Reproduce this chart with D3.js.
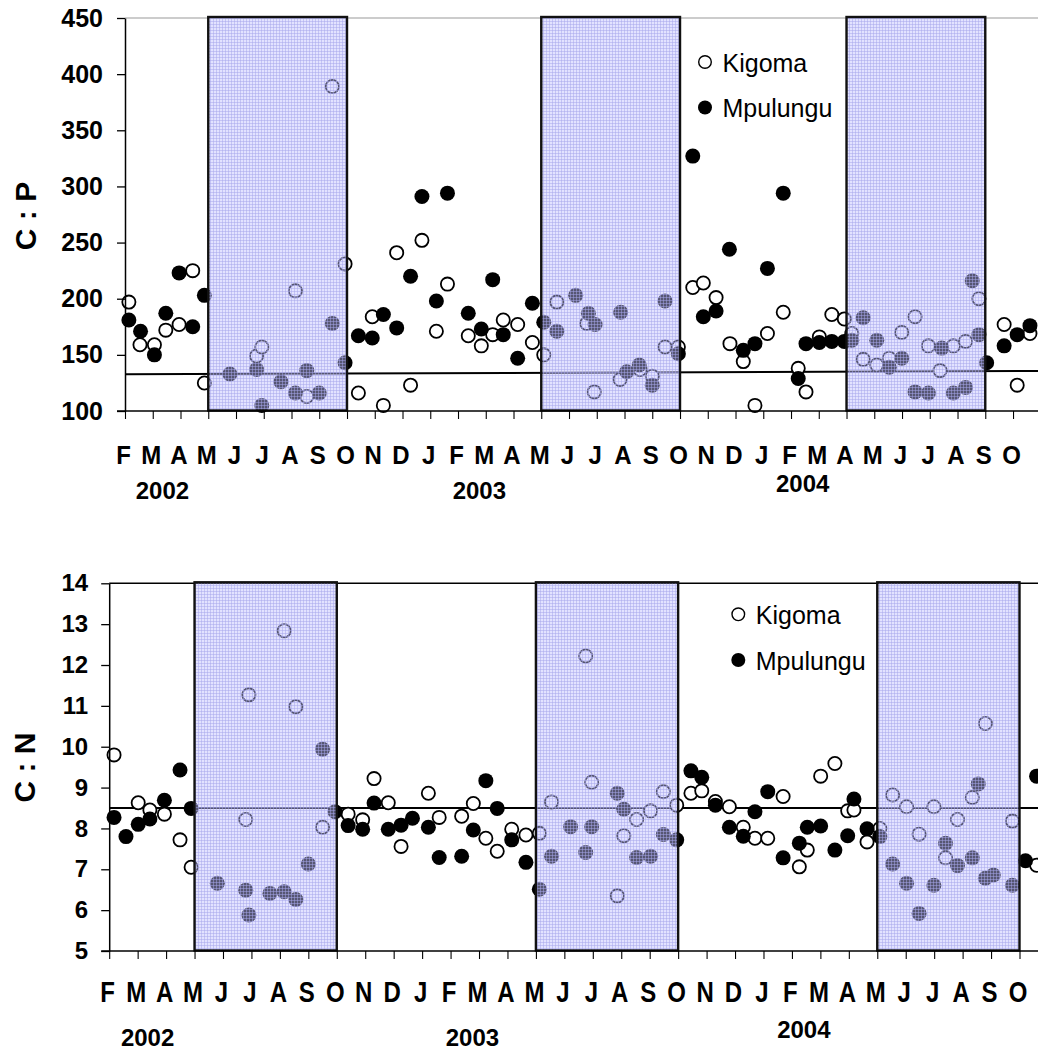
<!DOCTYPE html>
<html><head><meta charset="utf-8">
<script src="https://cdn.jsdelivr.net/npm/d3@7"></script>
<style>body{margin:0;background:#fff}svg{display:block}text{font-family:"Liberation Sans",Arial,Helvetica,sans-serif}</style>
</head><body><svg id="c" width="1038" height="1052"></svg>
<script>
// ---- data (x in month units: 0 = Feb 2002) ----
const monthLabels = ["F","M","A","M","J","J","A","S","O","N","D","J","F","M","A","M","J","J","A","S","O","N","D","J","F","M","A","M","J","J","A","S","O"];
const yearLabels = ["2002","2003","2004"];
const yearAt = [1.35, 12.77, 24.42];
const cpTicks = [100,150,200,250,300,350,400,450];
const cnTicks = [5,6,7,8,9,10,11,12,13,14];

const kigomaCP = [[0.14,197],[0.54,159],[1.06,159],[1.47,172],[1.95,177],[2.44,225],[2.86,125],[4.74,149],[4.93,157],[6.14,207],[6.55,113],[7.47,389],[7.93,231],[8.41,116],[8.91,184],[9.31,105],[9.79,241],[10.29,123],[10.7,252],[11.22,171],[11.62,213],[12.37,167],[12.84,158],[13.25,168],[13.63,181],[14.15,177],[14.68,161],[15.09,150],[15.56,197],[16.64,178],[16.91,117],[17.84,128],[18.56,137],[19.0,131],[19.46,157],[19.94,157],[20.46,210],[20.84,214],[21.3,201],[21.8,160],[22.28,144],[22.7,105],[23.15,169],[23.72,188],[24.26,138],[24.54,117],[25.02,166],[25.47,186],[25.92,182],[26.19,169],[26.6,146],[27.09,141],[27.54,147],[27.99,170],[28.47,184],[28.95,158],[29.37,136],[29.85,158],[30.29,162],[30.77,200],[31.68,177],[32.15,123],[32.61,169]];
const mpulunguCP = [[0.14,181],[0.56,171],[1.06,150],[1.47,187],[1.95,223],[2.44,175],[2.86,203],[3.78,133],[4.74,137],[4.93,105],[5.62,126],[6.14,116],[6.55,136],[7.0,116],[7.47,178],[7.93,143],[8.41,167],[8.91,165],[9.31,186],[9.79,174],[10.29,220],[10.7,291],[11.22,198],[11.62,294],[12.37,187],[12.84,173],[13.25,217],[13.63,168],[14.15,147],[14.68,196],[15.09,179],[15.56,171],[16.24,203],[16.7,187],[16.94,177],[17.86,188],[18.08,135],[18.53,141],[19.0,123],[19.46,198],[19.94,151],[20.46,327],[20.84,184],[21.3,189],[21.78,244],[22.28,154],[22.7,160],[23.15,227],[23.72,294],[24.26,129],[24.54,160],[25.02,161],[25.47,162],[25.92,162],[26.19,163],[26.6,183],[27.09,163],[27.54,139],[27.99,147],[28.47,117],[28.95,116],[29.43,156],[29.85,116],[30.29,121],[30.53,216],[30.77,168],[31.05,143],[31.68,158],[32.15,168],[32.61,176]];

const kigomaCN = [[0.17,9.8],[1.02,8.63],[1.43,8.45],[1.94,8.35],[2.49,7.72],[2.88,7.05],[4.80,8.22],[4.91,11.27],[6.15,12.84],[6.56,10.98],[7.5,8.03],[8.40,8.35],[8.91,8.21],[9.31,9.22],[9.81,8.63],[10.26,7.56],[11.22,8.86],[11.60,8.27],[12.39,8.3],[12.80,8.61],[13.24,7.76],[13.64,7.44],[14.15,7.98],[14.65,7.84],[15.12,7.88],[15.55,8.65],[16.75,12.22],[16.96,9.13],[17.86,6.35],[18.09,7.82],[18.54,8.22],[19.03,8.43],[19.48,8.9],[19.95,8.57],[20.45,8.86],[20.83,8.92],[21.31,8.66],[21.8,8.53],[22.29,8.03],[22.7,7.76],[23.15,7.76],[23.69,8.78],[24.26,7.06],[24.54,7.47],[25.01,9.28],[25.51,9.59],[25.96,8.43],[26.18,8.45],[26.64,7.67],[27.09,8.0],[27.54,8.82],[28.03,8.53],[28.47,7.86],[28.99,8.53],[29.4,7.28],[29.82,8.22],[30.34,8.76],[30.8,10.57],[31.75,8.18],[32.6,7.1]];
const mpulunguCN = [[0.17,8.27],[0.59,7.8],[1.02,8.1],[1.43,8.23],[1.94,8.69],[2.49,9.43],[2.88,8.49],[3.80,6.66],[4.80,6.49],[4.91,5.88],[5.65,6.41],[6.15,6.45],[6.56,6.26],[7.0,7.13],[7.5,9.94],[7.94,8.41],[8.40,8.07],[8.91,7.98],[9.31,8.62],[9.81,7.98],[10.26,8.08],[10.66,8.25],[11.22,8.03],[11.60,7.29],[12.39,7.32],[12.80,7.96],[13.24,9.17],[13.64,8.49],[14.15,7.72],[14.65,7.17],[15.12,6.51],[15.55,7.32],[16.22,8.04],[16.75,7.41],[16.96,8.04],[17.86,8.86],[18.09,8.47],[18.54,7.29],[19.03,7.32],[19.48,7.85],[19.95,7.72],[20.45,9.41],[20.83,9.25],[21.31,8.57],[21.8,8.03],[22.29,7.81],[22.7,8.41],[23.15,8.9],[23.69,7.28],[24.26,7.64],[24.54,8.03],[25.01,8.06],[25.51,7.47],[25.96,7.82],[26.18,8.72],[26.64,7.99],[27.09,7.8],[27.54,7.13],[28.03,6.66],[28.47,5.92],[28.99,6.61],[29.4,7.64],[29.82,7.09],[30.34,7.28],[30.55,9.09],[30.8,6.78],[31.08,6.86],[31.75,6.61],[32.21,7.21],[32.6,9.28]];

const cpSeasons = [[3,8],[15,20],[26,31]];
const cnSeasons = [[3,8],[15,20],[27,32]];
const cpMean = [[0,132.7],[32.9,135.6]];
const cnMean = [[0,8.5],[32.65,8.5]];
const seriesNames = ["Kigoma","Mpulungu"];

// ---- drawing ----
const svg = d3.select("#c");
const defs = svg.append("defs");
const pat = defs.append("pattern").attr("id","shade").attr("patternUnits","userSpaceOnUse")
  .attr("width",3).attr("height",3);
pat.append("rect").attr("width",3).attr("height",3).attr("fill","rgb(190,190,255)").attr("fill-opacity",0.45);
pat.append("path").attr("d","M0,0.5H3M0.5,0V3").attr("stroke","rgb(165,165,235)").attr("stroke-opacity",0.5).attr("stroke-width",1);

const FONT = '"Liberation Sans",Arial,sans-serif';

function panel(cfg){
  const x = d3.scaleLinear().domain(cfg.xDomain).range(cfg.xRange);
  const y = d3.scaleLinear().domain(cfg.yDomain).range(cfg.yRange);
  const g = svg.append("g");

  g.append("line").attr("x1",cfg.xRange[0]).attr("x2",cfg.xRange[1])
    .attr("y1",y(cfg.yDomain[1])).attr("y2",y(cfg.yDomain[1]))
    .attr("stroke",cfg.topColor).attr("stroke-width",cfg.topWidth);

  g.append("path").datum(cfg.mean)
    .attr("d", d3.line().x(d=>x(d[0])).y(d=>y(d[1])))
    .attr("fill","none").attr("stroke","#000").attr("stroke-width",2);

  g.append("g").selectAll("circle").data(cfg.kig).join("circle")
    .attr("cx",d=>x(d[0])).attr("cy",d=>y(d[1])).attr("r",6.6)
    .attr("fill","#fff").attr("stroke","#000").attr("stroke-width",1.8);
  g.append("g").selectAll("circle").data(cfg.mpu).join("circle")
    .attr("cx",d=>x(d[0])).attr("cy",d=>y(d[1])).attr("r",7.5)
    .attr("fill","#000");

  g.append("g").selectAll("rect").data(cfg.seasons).join("rect")
    .attr("x",d=>x(d[0])).attr("width",d=>x(d[1])-x(d[0]))
    .attr("y",y(cfg.yDomain[1])-1).attr("height",y(cfg.yDomain[0])-y(cfg.yDomain[1])+0.5)
    .attr("fill","url(#shade)").attr("stroke","#111").attr("stroke-width",2.4);

  const ya = g.append("g").attr("transform",`translate(${cfg.xRange[0]},0)`)
    .call(d3.axisLeft(y).tickValues(cfg.yTicks).tickSize(8).tickSizeOuter(0).tickPadding(cfg.yPad));
  ya.select(".domain").attr("stroke","#000").attr("stroke-width",1.5);
  ya.selectAll(".tick line").attr("stroke","#000").attr("stroke-width",1.3);
  ya.selectAll(".tick text").attr("font-family",FONT).attr("font-weight","bold")
    .attr("font-size",cfg.yFont).attr("fill","#000");

  const xa = g.append("g").attr("transform",`translate(0,${y(cfg.yDomain[0])})`)
    .call(d3.axisBottom(x).tickValues(d3.range(0,33)).tickSize(8).tickSizeOuter(0).tickFormat(""));
  xa.select(".domain").attr("stroke","#000").attr("stroke-width",1.5)
    .attr("d",`M${cfg.xRange[0]-8},0H${cfg.xRange[1]}`);
  xa.selectAll(".tick line").attr("stroke","#000").attr("stroke-width",1.1);

  g.append("g").selectAll("text").data(monthLabels).join("text")
    .attr("transform",(d,i)=>`translate(${x(i)-1.5},${cfg.monthY}) scale(1,${cfg.monthScale})`)
    .attr("text-anchor","middle").attr("font-family",FONT).attr("font-weight","bold")
    .attr("font-size",24).text(d=>d);
  g.append("g").selectAll("text").data(yearLabels).join("text")
    .attr("x",(d,i)=>x(yearAt[i])).attr("y",(d,i)=>cfg.yearY[i])
    .attr("text-anchor","middle").attr("font-family",FONT).attr("font-weight","bold")
    .attr("font-size",24).text(d=>d);

  g.append("text").attr("transform",`translate(${cfg.titleX},${cfg.titleY}) rotate(-90)`)
    .attr("text-anchor","middle").attr("font-family",FONT).attr("font-weight","bold")
    .attr("font-size",30).text(cfg.title);

  const lg = g.append("g");
  seriesNames.forEach((name,i)=>{
    const cy = cfg.legY[i];
    if(i===0) lg.append("circle").attr("cx",cfg.legX).attr("cy",cy).attr("r",6.3)
      .attr("fill","#fff").attr("stroke","#000").attr("stroke-width",1.4);
    else lg.append("circle").attr("cx",cfg.legX).attr("cy",cy).attr("r",7).attr("fill","#000");
    lg.append("text").attr("x",cfg.legX+17.5).attr("y",cy+9.5)
      .attr("font-family",FONT).attr("font-size",25).text(name);
  });
}

panel({
  xDomain:[0,32.9], xRange:[125,1038], yDomain:[100,450], yRange:[411,18],
  yTicks:cpTicks, yPad:14, yFont:25, topColor:"#999", topWidth:1.2,
  kig:kigomaCP, mpu:mpulunguCP, seasons:cpSeasons, mean:cpMean,
  monthY:464, monthScale:1.05, yearY:[499,499,491.5],
  title:"C : P", titleX:36, titleY:216, legX:705, legY:[62,107.5]
});
panel({
  xDomain:[0,32.65], xRange:[109.2,1038], yDomain:[5,14], yRange:[951,583.3],
  yTicks:cnTicks, yPad:13, yFont:24, topColor:"#000", topWidth:1.5,
  kig:kigomaCN, mpu:mpulunguCN, seasons:cnSeasons, mean:cnMean,
  monthY:1001.5, monthScale:1.22, yearY:[1046,1046,1038],
  title:"C : N", titleX:34.5, titleY:767.5, legX:738.3, legY:[614.3,660]
});
</script></body></html>
